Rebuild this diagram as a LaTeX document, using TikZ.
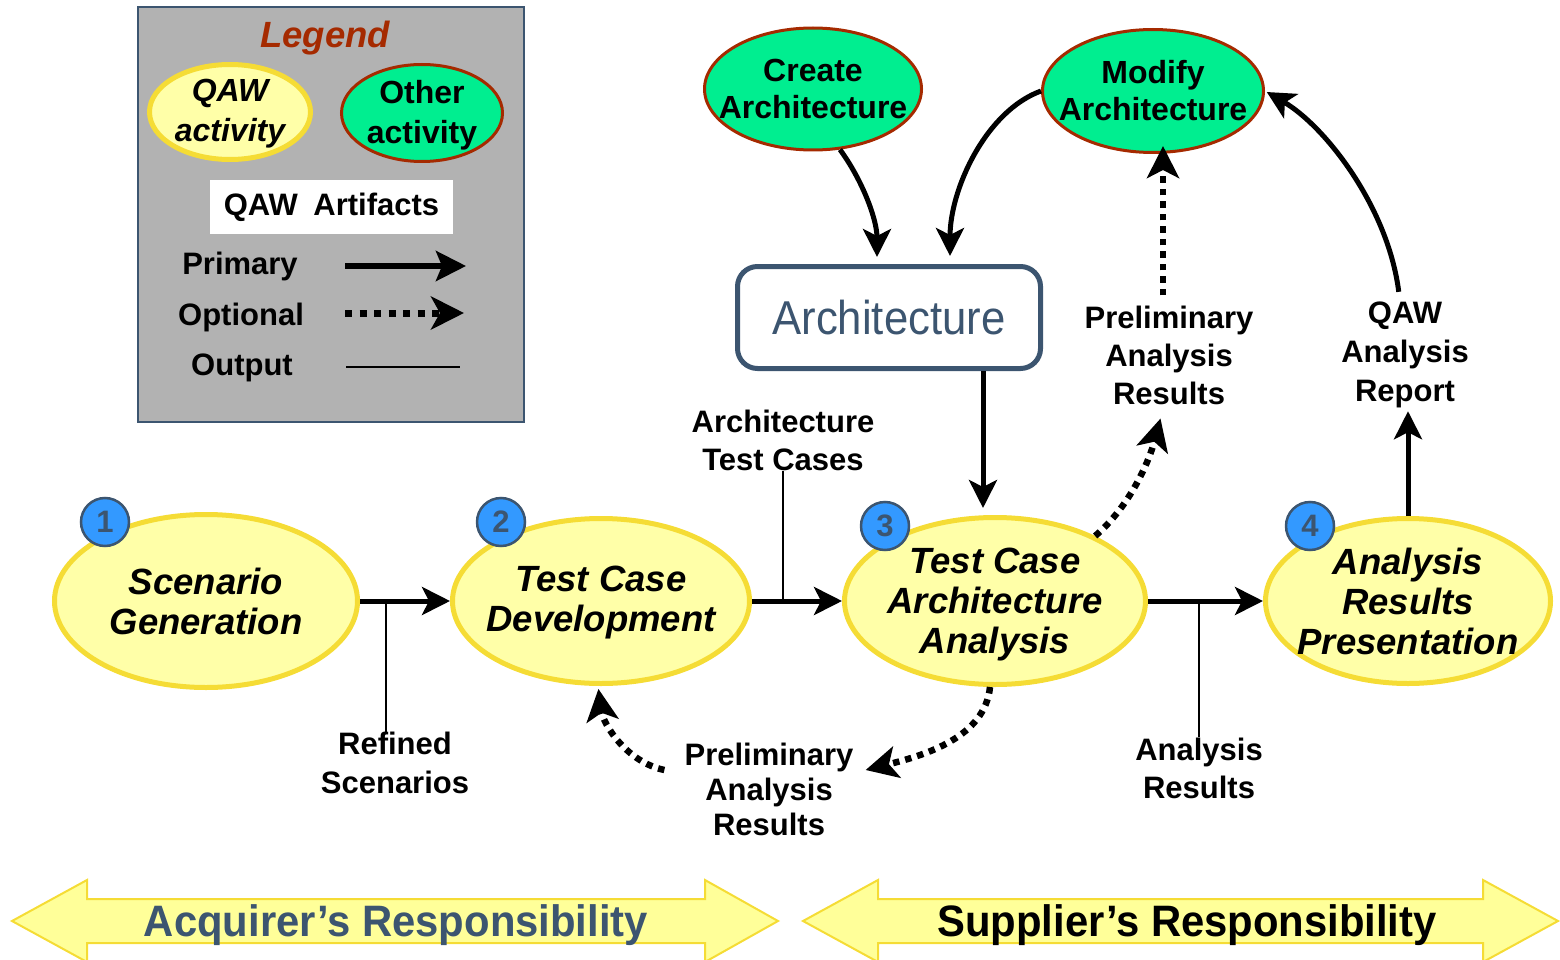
\documentclass[tikz,border=0pt]{standalone}
\usepackage{fontspec}
\setmainfont{Liberation Sans}
\newfontfamily\narrowfont[FakeStretch=0.92]{Liberation Sans}
\newfontfamily\bandfont[FakeStretch=0.95]{Liberation Sans}
\usetikzlibrary{shapes.geometric,arrows.meta}
\definecolor{qawfill}{HTML}{FFFFA8}
\definecolor{qawborder}{HTML}{F5DC35}
\definecolor{othfill}{HTML}{00EE90}
\definecolor{othborder}{HTML}{A52A00}
\definecolor{slate}{HTML}{3C5570}
\definecolor{numblue}{HTML}{3399FF}
\definecolor{leggray}{HTML}{B2B2B2}
\definecolor{bandfill}{HTML}{FFFF99}
\begin{document}
\begin{tikzpicture}[x=1pt,y=-1pt,
  qaw/.style={ellipse,draw=qawborder,fill=qawfill,line width=5pt,inner sep=0pt},
  qawtext/.style={align=center,inner sep=0pt,font=\fontsize{36.5}{40}\selectfont\bfseries\itshape},
  oth/.style={ellipse,draw=othborder,fill=othfill,line width=3pt,inner sep=0pt},
  othtext/.style={align=center,inner sep=0pt,font=\fontsize{32}{37}\selectfont\bfseries},
  numc/.style={circle,draw=slate,fill=numblue,line width=2.5pt,minimum size=48pt,inner sep=0pt,
    text=slate,font=\fontsize{31}{31}\selectfont\bfseries},
  lbl/.style={align=center,inner sep=0pt,font=\fontsize{31}{38}\selectfont\bfseries},
  primary/.style={line width=5pt,-{Stealth[length=28pt,width=28pt,inset=7pt]}},
  optional/.style={line width=6.5pt,dash pattern=on 6.5pt off 6pt,-{Stealth[length=32pt,width=32pt,inset=8pt]}},
  outputline/.style={line width=2pt},
  band/.style={fill=bandfill,draw=qawborder,line width=2pt}
]
\useasboundingbox (0,0) rectangle (1560,960);

% ---------- Legend ----------
\node[draw=slate,fill=leggray,line width=2pt,minimum width=386pt,minimum height=415pt,inner sep=0pt] (legbox) at (331,214.5) {};
\node[text=othborder,font=\fontsize{36.5}{40}\selectfont\bfseries\itshape] (legtitle) at (325,38) {Legend};
\node[qaw,minimum width=161pt,minimum height=95pt,
  label={[qawtext,font=\fontsize{32}{40}\selectfont\bfseries\itshape,yshift=-2pt]center:QAW\\activity}] (legqaw) at (230,112) {};
\node[oth,minimum width=161pt,minimum height=97pt,
  label={[othtext,font=\fontsize{32}{40}\selectfont\bfseries,yshift=-2pt]center:Other\\activity}] (legoth) at (422,113) {};
\node[fill=white,minimum width=243pt,minimum height=53pt,inner sep=0pt,font=\fontsize{31}{31}\selectfont\bfseries] (legart) at (331.5,207) {\raisebox{-3pt}{QAW\enspace Artifacts}};
\node[lbl] (legprim) at (240,266) {Primary};
\node[lbl] (legopt) at (241,317) {Optional};
\node[lbl] (legout) at (242,368) {Output};
\coordinate (lp1) at (345,266); \coordinate (lp2) at (466,266);
\coordinate (lo1) at (345,313); \coordinate (lo2) at (464,313);
\coordinate (lu1) at (346,367); \coordinate (lu2) at (460,367);
\draw[line width=5.5pt,-{Stealth[length=30pt,width=30pt,inset=6pt]}] (lp1) -- (lp2);
\draw[line width=7pt,dash pattern=on 7pt off 7.5pt,-{Stealth[length=33pt,width=33pt,inset=9pt]}] (lo1) -- (lo2);
\draw[outputline] (lu1) -- (lu2);

% ---------- Other activities ----------
\node[oth,minimum width=217pt,minimum height=122pt,label={[othtext]center:Create\\Architecture}] (create) at (813,89) {};
\node[oth,minimum width=221pt,minimum height=123pt,label={[othtext]center:Modify\\Architecture}] (modify) at (1153,91) {};

% ---------- Architecture box ----------
\node[draw=slate,line width=5pt,rounded corners=20pt,fill=white,minimum width=303pt,minimum height=102pt,
  text=slate,font=\narrowfont\fontsize{47.5}{47.5}\selectfont] (arch) at (889,317.5) {\raisebox{-2pt}{Architecture}};

% ---------- QAW activities ----------
\node[qaw,minimum width=303pt,minimum height=173pt,label={[qawtext]center:Scenario\\Generation}] (sg) at (206,601) {};
\node[qaw,minimum width=297pt,minimum height=165pt,label={[qawtext,yshift=-2pt]center:Test Case\\Development}] (tcd) at (601,601) {};
\node[qaw,minimum width=301pt,minimum height=167pt,label={[qawtext,yshift=-4pt]center:Test Case\\Architecture\\Analysis}] (tca) at (995,601) {};
\node[qaw,minimum width=285pt,minimum height=165pt,label={[qawtext]center:Analysis\\Results\\Presentation}] (arp) at (1408,601) {};

\node[numc] (n1) at (105,522) {1};
\node[numc] (n2) at (501,522) {2};
\node[numc] (n3) at (885,526) {3};
\node[numc] (n4) at (1310,526) {4};

% ---------- Labels ----------
\node[lbl] (atc) at (783,440) {Architecture\\Test Cases};
\node[lbl] (par1) at (1169,355) {Preliminary\\Analysis\\Results};
\node[lbl,font=\fontsize{31}{39}\selectfont\bfseries] (qar) at (1405,355) {QAW\\Analysis\\Report};
\node[lbl,font=\fontsize{31}{39}\selectfont\bfseries] (rs) at (395,763) {Refined\\Scenarios};
\node[lbl,font=\fontsize{31}{35}\selectfont\bfseries] (par2) at (769,789) {Preliminary\\Analysis\\Results};
\node[lbl] (ar) at (1199,768) {Analysis\\Results};

% ---------- Primary flow ----------
\draw[primary] (sg.east) -- (tcd.west);
\draw[primary] (tcd.east) -- (tca.west);
\draw[primary] (tca.east) -- (arp.west);
\draw[primary,shorten >=7pt] ([xshift=94pt]arch.south) -- ([xshift=94pt]arch.south |- tca.north);
\draw[primary] (arp.north) -- ([yshift=-3pt]arp.north |- qar.south);
\draw[primary,shorten >=7pt] (create.-66) .. controls +(22,30) and +(0,-45) .. ([xshift=-12pt]arch.north);
\draw[primary,shorten >=8pt] (modify.west) .. controls +(-55,20) and +(0,-75) .. ([xshift=61pt]arch.north);
\draw[primary,shorten <=10pt,shorten >=2pt] ([xshift=-5pt]qar.north) .. controls +(-12,-95) and +(60,35) .. (modify.east);

% ---------- Optional flow ----------
\draw[optional,shorten >=2pt] (tca.33) .. controls +(35,-30) and +(-12,45) .. ([xshift=-8pt,yshift=-12pt]par1.south);
\draw[optional,shorten >=2pt] ([xshift=-6pt,yshift=10pt]par1.north) -- ([xshift=-6pt,yshift=10pt]par1.north |- modify.south);
\draw[optional] ([xshift=-5pt]tca.south) .. controls +(-5,50) and +(60,-15) .. ([xshift=12pt,yshift=19pt]par2.east);
\draw[optional,shorten >=3pt] ([xshift=-20pt,yshift=19pt]par2.west) .. controls +(-38,-8) and +(5,38) .. (tcd.-92);

% ---------- Outputs ----------
\coordinate (o1) at (386,599);
\draw[outputline] (o1) -- (o1 |- rs.north);
\draw[outputline] (atc.south) -- (atc.south |- tcd.east);
\draw[outputline] (ar.north) -- (ar.north |- tca.east);

% ---------- Responsibility bands ----------
\draw[band] (12,921) -- (87,880) -- (87,899) -- (705,899) -- (705,880) -- (778,921) -- (705,962) -- (705,943) -- (87,943) -- (87,962) -- cycle;
\node[text=slate,font=\bandfont\fontsize{44}{44}\selectfont\bfseries] (acq) at (396,925) {Acquirer’s Responsibility};
\draw[band] (803,921) -- (878,880) -- (878,899) -- (1483,899) -- (1483,880) -- (1558,921) -- (1483,962) -- (1483,943) -- (878,943) -- (878,962) -- cycle;
\node[font=\bandfont\fontsize{44}{44}\selectfont\bfseries] (sup) at (1187,925) {Supplier’s Responsibility};
\end{tikzpicture}
\end{document}
